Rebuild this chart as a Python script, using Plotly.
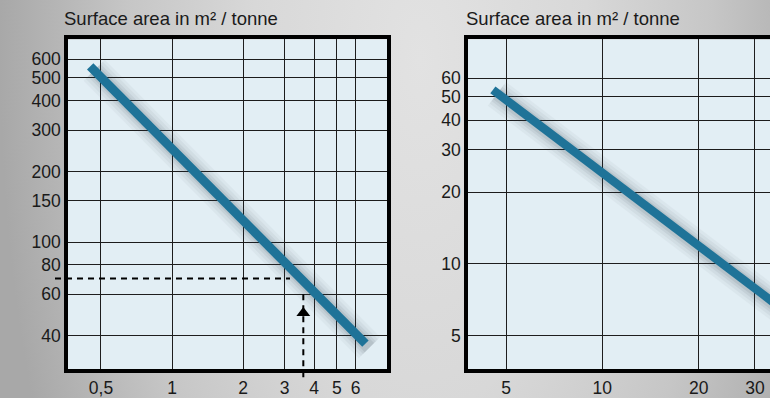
import base64
import plotly.graph_objects as go

# ---------------- data ----------------
left_x_ticks = [0.5, 1, 2, 3, 4, 5, 6]
left_x_labels = ["0,5", "1", "2", "3", "4", "5", "6"]
left_y_ticks = [40, 60, 80, 100, 150, 200, 300, 400, 500, 600]
left_y_labels = ["40", "60", "80", "100", "150", "200", "300", "400", "500", "600"]

right_x_ticks = [5, 10, 20, 30]
right_x_labels = ["5", "10", "20", "30"]
right_y_ticks = [5, 10, 20, 30, 40, 50, 60]
right_y_labels = ["5", "10", "20", "30", "40", "50", "60"]

left_line_x = [0.45, 6.6]
left_line_y = [560, 37]
right_line_x = [4.55, 40]
right_line_y = [53.5, 5.9]

read_x = [3.6]
read_y = [70]
arrow_y = [50]

title_text = "Surface area in m² / tonne"

# ---------------- style ----------------
W, H = 770, 398
FONT = "Liberation Sans, Arial, sans-serif"
LINE_BLUE = "#1f7398"
PLOT_BG = "#e2eef4"
GRID = "#1e1e1e"

def px_x(p):
    return p / W

def px_y(p):
    return 1 - p / H

L_DOM_X = [px_x(68), px_x(387)]
R_DOM_X = [px_x(468), 1.0]
DOM_Y = [px_y(374), px_y(40)]

L_XR = [-0.4408, 0.9109]
L_YR = [1.4592, 2.8622]
R_XR = [0.5802, 1.5241]
R_YR = [0.5591, 1.9393]

# drop-shadow offset (pixels), converted to a multiplicative shift on the log axes
SH_DX, SH_DY = 4, 4
def shadow(xs, ys, xr, yr, dom_x_px, dom_y_px):
    kx = 10 ** (SH_DX * (xr[1] - xr[0]) / dom_x_px)
    ky = 10 ** (-SH_DY * (yr[1] - yr[0]) / dom_y_px)
    return [v * kx for v in xs], [v * ky for v in ys]

lsx, lsy = shadow(left_line_x, left_line_y, L_XR, L_YR, 319, 334)
rsx, rsy = shadow(right_line_x, right_line_y, R_XR, R_YR, 302, 334)

fig = go.Figure()

shadow_specs = [(30, 0.04), (24, 0.05), (18, 0.07), (13, 0.09)]
for w, op in shadow_specs:
    fig.add_trace(go.Scatter(x=lsx, y=lsy, mode="lines",
                             line=dict(color="#34414b", width=w), opacity=op,
                             xaxis="x", yaxis="y", hoverinfo="skip", showlegend=False))
    fig.add_trace(go.Scatter(x=rsx, y=rsy, mode="lines",
                             line=dict(color="#34414b", width=w), opacity=op,
                             xaxis="x2", yaxis="y2", hoverinfo="skip", showlegend=False))

# main lines
fig.add_trace(go.Scatter(x=left_line_x, y=left_line_y, mode="lines",
                         line=dict(color=LINE_BLUE, width=9),
                         xaxis="x", yaxis="y", showlegend=False))
fig.add_trace(go.Scatter(x=right_line_x, y=right_line_y, mode="lines",
                         line=dict(color=LINE_BLUE, width=8.5),
                         xaxis="x2", yaxis="y2", showlegend=False))

# arrow head
fig.add_trace(go.Scatter(x=read_x, y=arrow_y, mode="markers",
                         marker=dict(symbol="triangle-up", size=12, color="black"),
                         xaxis="x", yaxis="y", showlegend=False))

tickfont = dict(family=FONT, size=17.5, color="#1a1a1a")

def main_axis(dom, rng, tv, tt, anchor, mirror=True):
    return dict(type="log", domain=dom, range=rng, tickvals=tv, ticktext=tt,
                anchor=anchor,
                showgrid=True, gridcolor=GRID, gridwidth=1.3,
                showline=True, linecolor="black", linewidth=3.5, mirror=mirror,
                ticks="", tickfont=tickfont, zeroline=False, fixedrange=True)

fig.update_layout(
    width=W, height=H, autosize=False,
    margin=dict(l=0, r=0, t=0, b=0, pad=0),
    paper_bgcolor="#c4c4c4",
    plot_bgcolor=PLOT_BG,
    showlegend=False,
    xaxis=main_axis(L_DOM_X, L_XR, left_x_ticks, left_x_labels, "y"),
    yaxis=main_axis(DOM_Y, L_YR, left_y_ticks, left_y_labels, "x"),
    xaxis2=main_axis(R_DOM_X, R_XR, right_x_ticks, right_x_labels, "y2"),
    yaxis2=main_axis(DOM_Y, R_YR, right_y_ticks, right_y_labels, "x2", mirror=False),
)

# background gradient as an SVG image (slightly oversized so it covers the whole paper)
svg = (
    '<svg xmlns="http://www.w3.org/2000/svg" width="790" height="430" viewBox="0 0 790 430" '
    'preserveAspectRatio="none"><defs>'
    '<radialGradient id="g" gradientUnits="userSpaceOnUse" cx="0" cy="0" r="1" '
    'gradientTransform="translate(430 70) scale(420 900)">'
    '<stop offset="0" stop-color="#e2e2e2"/>'
    '<stop offset="0.4" stop-color="#d8d8d8"/>'
    '<stop offset="0.7" stop-color="#c6c6c6"/>'
    '<stop offset="1" stop-color="#a8a8a8"/>'
    '</radialGradient></defs>'
    '<rect width="790" height="430" fill="url(#g)"/></svg>'
)
src = "data:image/svg+xml;base64," + base64.b64encode(svg.encode()).decode()
fig.add_layout_image(dict(source=src, xref="paper", yref="paper",
                          x=-10 / W, y=1 + 10 / H, sizex=790 / W, sizey=430 / H,
                          xanchor="left", yanchor="top",
                          sizing="stretch", layer="below"))

# plot-area backgrounds (above the gradient image)
for xr, yr in (("x domain", "y domain"), ("x2 domain", "y2 domain")):
    fig.add_shape(type="rect", xref=xr, yref=yr, x0=0, x1=1, y0=0, y1=1,
                  fillcolor=PLOT_BG, line=dict(width=0), layer="below")

# dashed reading lines
fig.add_shape(type="line", xref="paper", yref="y", x0=px_x(55), x1=px_x(290),
              y0=read_y[0], y1=read_y[0],
              line=dict(color="black", width=2, dash="6px,5px"), layer="above")
fig.add_shape(type="line", xref="x", yref="paper", x0=read_x[0], x1=read_x[0],
              y0=px_y(382), y1=px_y(293),
              line=dict(color="black", width=2, dash="6px,5px"), layer="above")

# titles
for xl in (62, 464):
    fig.add_annotation(text=title_text, xref="paper", yref="paper",
                       x=px_x(xl), y=px_y(19), xanchor="left", yanchor="middle",
                       showarrow=False, font=dict(family=FONT, size=18.5, color="#1a1a1a"))

post = ("document.documentElement.style.margin='0';"
        "document.documentElement.style.overflow='hidden';"
        "document.body.style.margin='0';"
        "document.body.style.overflow='hidden';"
        "document.body.style.background='#c4c4c4';")

fig.write_html("out.html", config={"displayModeBar": False}, post_script=post)
